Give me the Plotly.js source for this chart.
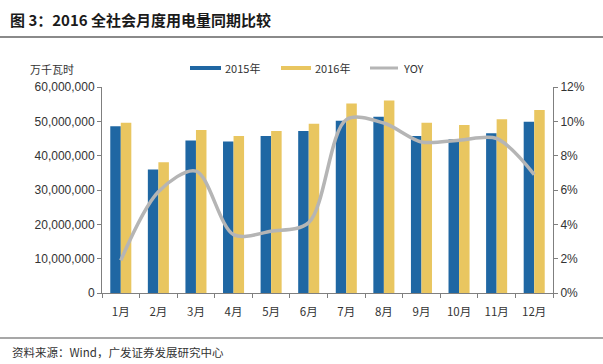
<!DOCTYPE html>
<html>
<head>
<meta charset="utf-8">
<script src="https://cdn.plot.ly/plotly-3.0.1.min.js"></script>
<style>
html,body{margin:0;padding:0;background:#fff;}
#chart{width:603px;height:364px;}
</style>
</head>
<body>
<div id="chart"></div>
<script>
var months = ["1月","2月","3月","4月","5月","6月","7月","8月","9月","10月","11月","12月"];
var y2015 = [48600000,36000000,44400000,44100000,45700000,47200000,50200000,51300000,45700000,44800000,46500000,49900000];
var y2016 = [49600000,38100000,47500000,45700000,47200000,49300000,55200000,56100000,49600000,48900000,50600000,53300000];
var yoy = [0.019,0.059,0.071,0.034,0.036,0.041,0.101,0.099,0.088,0.089,0.090,0.069];
var leftTicks = [0,10000000,20000000,30000000,40000000,50000000,60000000];
var leftTickText = ["0","10,000,000","20,000,000","30,000,000","40,000,000","50,000,000","60,000,000"];
var rightTicks = [0,0.02,0.04,0.06,0.08,0.10,0.12];
var rightTickText = ["0%","2%","4%","6%","8%","10%","12%"];

var cjk = '"Noto Sans CJK SC", "Liberation Sans", sans-serif';
var num = '"Liberation Sans", Arial, sans-serif';

var traces = [
  {type:'bar', name:'2015年', x:months, y:y2015, marker:{color:'#1F67A3'}, showlegend:false},
  {type:'bar', name:'2016年', x:months, y:y2016, marker:{color:'#E9C660'}, showlegend:false},
  {type:'scatter', mode:'lines', name:'YOY', x:months, y:yoy, yaxis:'y2',
   line:{color:'#B5B5B5', width:3.5, shape:'spline', smoothing:0.9}, showlegend:false}
];

function px(xp){return (xp-102)/451;}
function py(yp){return (293-yp)/206;}

var shapes = [
  {type:'line', xref:'paper', yref:'paper', x0:px(0), x1:px(603), y0:py(37), y1:py(37), line:{color:'#8a8a8a', width:2}},
  {type:'line', xref:'paper', yref:'paper', x0:px(0), x1:px(603), y0:py(338), y1:py(338), line:{color:'#8a8a8a', width:1.5}},
  {type:'rect', xref:'paper', yref:'paper', x0:px(190), x1:px(221), y0:py(70), y1:py(66), fillcolor:'#1F67A3', line:{width:0}},
  {type:'rect', xref:'paper', yref:'paper', x0:px(281), x1:px(311), y0:py(70), y1:py(66), fillcolor:'#E9C660', line:{width:0}},
  {type:'line', xref:'paper', yref:'paper', x0:px(370), x1:px(398), y0:py(68), y1:py(68), line:{color:'#B5B5B5', width:3}}
];

var annotations = [
  {xref:'paper', yref:'paper', x:px(8), y:py(20), xanchor:'left', yanchor:'middle', showarrow:false,
   text:'<b>图 3：2016 全社会月度用电量同期比较</b>', font:{family:cjk, size:15, color:'#1a1a1a'}},
  {xref:'paper', yref:'paper', x:px(28), y:py(69), xanchor:'left', yanchor:'middle', showarrow:false,
   text:'万千瓦时', font:{family:cjk, size:11, color:'#333'}},
  {xref:'paper', yref:'paper', x:px(223), y:py(68), xanchor:'left', yanchor:'middle', showarrow:false,
   text:'2015年', font:{family:cjk, size:11, color:'#333'}},
  {xref:'paper', yref:'paper', x:px(313), y:py(68), xanchor:'left', yanchor:'middle', showarrow:false,
   text:'2016年', font:{family:cjk, size:11, color:'#333'}},
  {xref:'paper', yref:'paper', x:px(401), y:py(68), xanchor:'left', yanchor:'middle', showarrow:false,
   text:'YOY', font:{family:cjk, size:11, color:'#333'}},
  {xref:'paper', yref:'paper', x:px(10), y:py(352), xanchor:'left', yanchor:'middle', showarrow:false,
   text:'资料来源：Wind，广发证券发展研究中心', font:{family:cjk, size:11.5, color:'#333'}}
];

var layout = {
  width:603, height:364,
  margin:{l:102, r:50, t:87, b:71, pad:0},
  paper_bgcolor:'#fff', plot_bgcolor:'#fff',
  showlegend:false,
  barmode:'group', bargap:0.44, bargroupgap:0,
  xaxis:{type:'category', showline:true, linecolor:'#7f7f7f', linewidth:1, ticks:'outside', tickson:'boundaries',
         ticklen:4, tickcolor:'#7f7f7f', showgrid:false, zeroline:false, ticklabelstandoff:8,
         tickfont:{family:cjk, size:11.5, color:'#333'}},
  yaxis:{range:[0,60000000], tickvals:leftTicks, ticktext:leftTickText, showline:true, linecolor:'#7f7f7f',
         linewidth:1, ticks:'outside', ticklen:4, tickcolor:'#7f7f7f', showgrid:false, zeroline:false,
         tickfont:{family:num, size:12, color:'#333'}},
  yaxis2:{range:[0,0.12], overlaying:'y', side:'right', tickvals:rightTicks, ticktext:rightTickText,
          showline:true, linecolor:'#7f7f7f', linewidth:1, ticks:'outside', ticklen:4, tickcolor:'#7f7f7f',
          showgrid:false, zeroline:false, tickfont:{family:num, size:12, color:'#333'}},
  shapes:shapes,
  annotations:annotations
};

Plotly.newPlot('chart', traces, layout, {displayModeBar:false, staticPlot:true});
</script>
</body>
</html>
